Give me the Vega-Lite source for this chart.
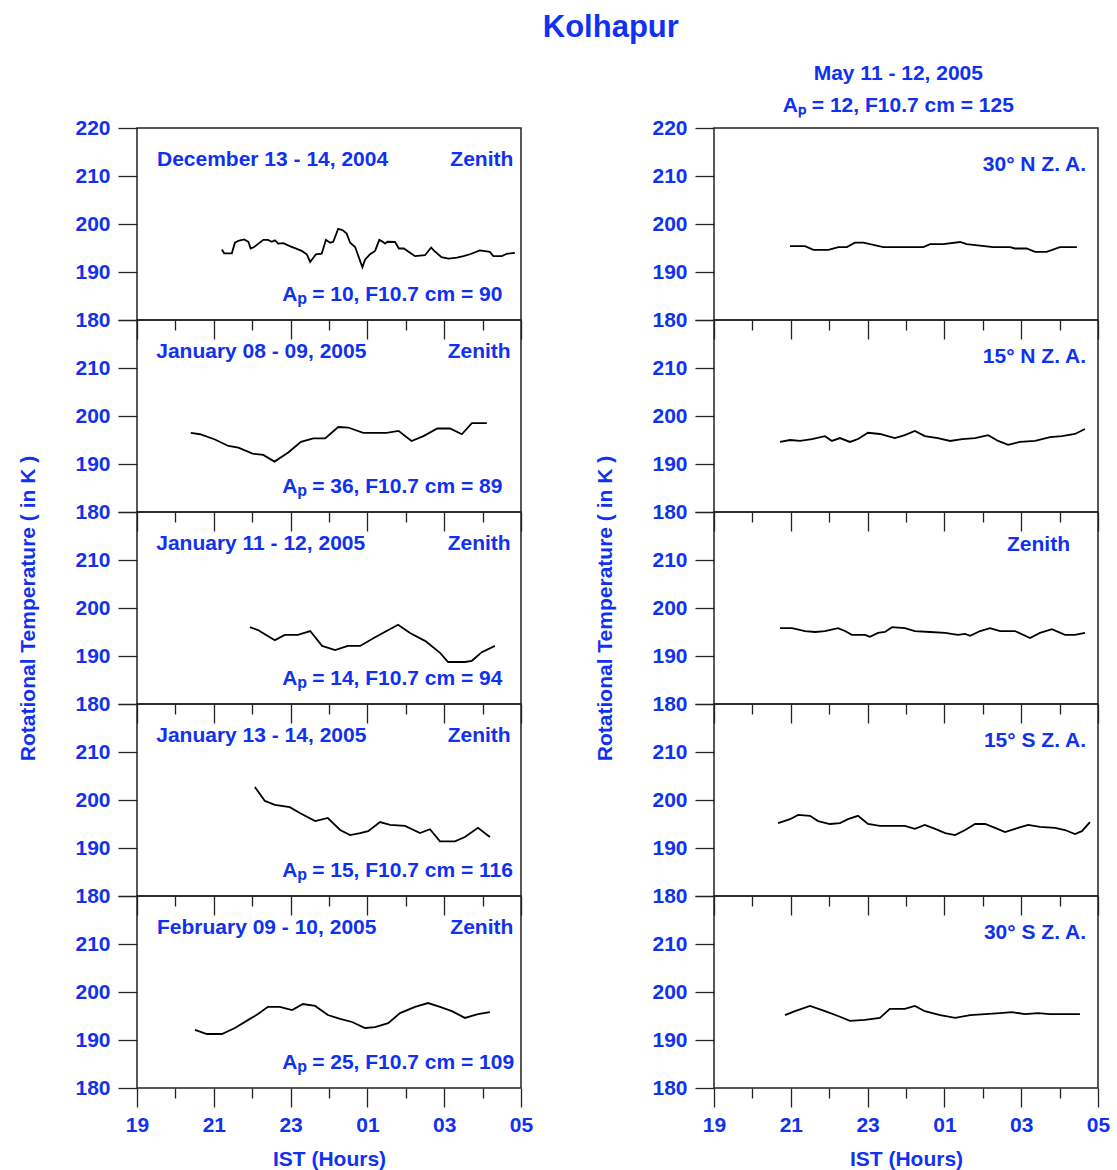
{
"$schema": "https://vega.github.io/schema/vega-lite/v6.json",
"background": "white",
"padding": {"left": 17, "top": 12, "right": 5, "bottom": 2},
"title": {"text": "Kolhapur", "fontSize": 31, "font": "Liberation Sans", "fontWeight": "bold", "color": "#1032f0", "anchor": "middle", "offset": 19, "dx": 47},
"bounds": "flush",
"spacing": 577,
"datasets": {
"temps": [
{"panel":"L1","hour":21.21,"temp":194.7},{"panel":"L1","hour":21.27,"temp":193.9},{"panel":"L1","hour":21.47,"temp":193.9},{"panel":"L1","hour":21.55,"temp":196.1},{"panel":"L1","hour":21.64,"temp":196.5},{"panel":"L1","hour":21.79,"temp":196.8},{"panel":"L1","hour":21.9,"temp":196.3},{"panel":"L1","hour":21.96,"temp":194.9},{"panel":"L1","hour":22.05,"temp":195.2},{"panel":"L1","hour":22.29,"temp":196.7},{"panel":"L1","hour":22.41,"temp":196.7},{"panel":"L1","hour":22.51,"temp":196.3},{"panel":"L1","hour":22.59,"temp":196.6},{"panel":"L1","hour":22.68,"temp":195.9},{"panel":"L1","hour":22.81,"temp":196.0},{"panel":"L1","hour":22.98,"temp":195.4},{"panel":"L1","hour":23.29,"temp":194.4},{"panel":"L1","hour":23.42,"temp":193.7},{"panel":"L1","hour":23.51,"temp":192.1},{"panel":"L1","hour":23.66,"temp":193.7},{"panel":"L1","hour":23.81,"temp":193.8},{"panel":"L1","hour":23.92,"temp":196.7},{"panel":"L1","hour":24.03,"temp":196.1},{"panel":"L1","hour":24.11,"temp":196.3},{"panel":"L1","hour":24.24,"temp":199.0},{"panel":"L1","hour":24.36,"temp":198.7},{"panel":"L1","hour":24.46,"temp":198.0},{"panel":"L1","hour":24.55,"temp":196.1},{"panel":"L1","hour":24.68,"temp":195.2},{"panel":"L1","hour":24.87,"temp":191.0},{"panel":"L1","hour":24.94,"temp":192.6},{"panel":"L1","hour":25.07,"temp":193.7},{"panel":"L1","hour":25.2,"temp":194.4},{"panel":"L1","hour":25.31,"temp":196.7},{"panel":"L1","hour":25.4,"temp":196.3},{"panel":"L1","hour":25.46,"temp":195.9},{"panel":"L1","hour":25.52,"temp":196.3},{"panel":"L1","hour":25.72,"temp":196.25},{"panel":"L1","hour":25.82,"temp":194.9},{"panel":"L1","hour":25.95,"temp":194.9},{"panel":"L1","hour":26.24,"temp":193.3},{"panel":"L1","hour":26.5,"temp":193.5},{"panel":"L1","hour":26.66,"temp":195.1},{"panel":"L1","hour":26.74,"temp":194.4},{"panel":"L1","hour":26.93,"temp":193.1},{"panel":"L1","hour":27.11,"temp":192.8},{"panel":"L1","hour":27.33,"temp":193.0},{"panel":"L1","hour":27.5,"temp":193.3},{"panel":"L1","hour":27.67,"temp":193.7},{"panel":"L1","hour":27.93,"temp":194.5},{"panel":"L1","hour":28.19,"temp":194.2},{"panel":"L1","hour":28.28,"temp":193.3},{"panel":"L1","hour":28.5,"temp":193.3},{"panel":"L1","hour":28.63,"temp":193.8},{"panel":"L1","hour":28.84,"temp":194.0},
{"panel":"L2","hour":20.4,"temp":196.5},{"panel":"L2","hour":20.64,"temp":196.2},{"panel":"L2","hour":21.03,"temp":195.1},{"panel":"L2","hour":21.38,"temp":193.75},{"panel":"L2","hour":21.64,"temp":193.4},{"panel":"L2","hour":22.01,"temp":192.15},{"panel":"L2","hour":22.29,"temp":191.9},{"panel":"L2","hour":22.58,"temp":190.5},{"panel":"L2","hour":22.94,"temp":192.4},{"panel":"L2","hour":23.27,"temp":194.6},{"panel":"L2","hour":23.59,"temp":195.35},{"panel":"L2","hour":23.9,"temp":195.35},{"panel":"L2","hour":24.24,"temp":197.7},{"panel":"L2","hour":24.5,"temp":197.6},{"panel":"L2","hour":24.89,"temp":196.5},{"panel":"L2","hour":25.5,"temp":196.5},{"panel":"L2","hour":25.81,"temp":196.9},{"panel":"L2","hour":26.15,"temp":194.8},{"panel":"L2","hour":26.46,"temp":195.8},{"panel":"L2","hour":26.82,"temp":197.4},{"panel":"L2","hour":27.15,"temp":197.4},{"panel":"L2","hour":27.46,"temp":196.2},{"panel":"L2","hour":27.72,"temp":198.5},{"panel":"L2","hour":28.11,"temp":198.5},
{"panel":"L3","hour":21.94,"temp":196.0},{"panel":"L3","hour":22.15,"temp":195.4},{"panel":"L3","hour":22.46,"temp":193.9},{"panel":"L3","hour":22.59,"temp":193.3},{"panel":"L3","hour":22.85,"temp":194.4},{"panel":"L3","hour":23.19,"temp":194.4},{"panel":"L3","hour":23.51,"temp":195.2},{"panel":"L3","hour":23.82,"temp":192.1},{"panel":"L3","hour":24.16,"temp":191.25},{"panel":"L3","hour":24.49,"temp":192.1},{"panel":"L3","hour":24.81,"temp":192.1},{"panel":"L3","hour":25.2,"temp":193.9},{"panel":"L3","hour":25.8,"temp":196.5},{"panel":"L3","hour":26.11,"temp":194.8},{"panel":"L3","hour":26.51,"temp":193.1},{"panel":"L3","hour":26.9,"temp":190.6},{"panel":"L3","hour":27.1,"temp":188.75},{"panel":"L3","hour":27.54,"temp":188.75},{"panel":"L3","hour":27.72,"temp":189.0},{"panel":"L3","hour":27.98,"temp":190.8},{"panel":"L3","hour":28.32,"temp":192.1},
{"panel":"L4","hour":22.07,"temp":202.7},{"panel":"L4","hour":22.33,"temp":199.8},{"panel":"L4","hour":22.59,"temp":199.0},{"panel":"L4","hour":22.98,"temp":198.5},{"panel":"L4","hour":23.24,"temp":197.3},{"panel":"L4","hour":23.64,"temp":195.6},{"panel":"L4","hour":23.97,"temp":196.25},{"panel":"L4","hour":24.29,"temp":193.75},{"panel":"L4","hour":24.55,"temp":192.7},{"panel":"L4","hour":24.81,"temp":193.1},{"panel":"L4","hour":25.02,"temp":193.5},{"panel":"L4","hour":25.33,"temp":195.4},{"panel":"L4","hour":25.59,"temp":194.8},{"panel":"L4","hour":25.98,"temp":194.6},{"panel":"L4","hour":26.37,"temp":193.1},{"panel":"L4","hour":26.63,"temp":193.9},{"panel":"L4","hour":26.89,"temp":191.4},{"panel":"L4","hour":27.28,"temp":191.4},{"panel":"L4","hour":27.54,"temp":192.3},{"panel":"L4","hour":27.88,"temp":194.2},{"panel":"L4","hour":28.19,"temp":192.3},
{"panel":"L5","hour":20.51,"temp":192.1},{"panel":"L5","hour":20.82,"temp":191.25},{"panel":"L5","hour":21.21,"temp":191.25},{"panel":"L5","hour":21.55,"temp":192.5},{"panel":"L5","hour":21.94,"temp":194.4},{"panel":"L5","hour":22.15,"temp":195.4},{"panel":"L5","hour":22.41,"temp":196.9},{"panel":"L5","hour":22.72,"temp":196.9},{"panel":"L5","hour":23.04,"temp":196.25},{"panel":"L5","hour":23.32,"temp":197.5},{"panel":"L5","hour":23.64,"temp":197.1},{"panel":"L5","hour":23.97,"temp":195.2},{"panel":"L5","hour":24.29,"temp":194.4},{"panel":"L5","hour":24.6,"temp":193.75},{"panel":"L5","hour":24.94,"temp":192.5},{"panel":"L5","hour":25.2,"temp":192.7},{"panel":"L5","hour":25.54,"temp":193.5},{"panel":"L5","hour":25.85,"temp":195.6},{"panel":"L5","hour":26.24,"temp":196.9},{"panel":"L5","hour":26.58,"temp":197.7},{"panel":"L5","hour":26.89,"temp":196.9},{"panel":"L5","hour":27.2,"temp":196.0},{"panel":"L5","hour":27.54,"temp":194.6},{"panel":"L5","hour":27.88,"temp":195.4},{"panel":"L5","hour":28.19,"temp":195.8},
{"panel":"R1","hour":20.98,"temp":195.4},{"panel":"R1","hour":21.37,"temp":195.4},{"panel":"R1","hour":21.59,"temp":194.6},{"panel":"R1","hour":21.98,"temp":194.6},{"panel":"R1","hour":22.24,"temp":195.2},{"panel":"R1","hour":22.46,"temp":195.2},{"panel":"R1","hour":22.67,"temp":196.1},{"panel":"R1","hour":22.89,"temp":196.1},{"panel":"R1","hour":23.41,"temp":195.2},{"panel":"R1","hour":24.45,"temp":195.2},{"panel":"R1","hour":24.63,"temp":195.8},{"panel":"R1","hour":24.97,"temp":195.8},{"panel":"R1","hour":25.41,"temp":196.25},{"panel":"R1","hour":25.58,"temp":195.8},{"panel":"R1","hour":26.27,"temp":195.2},{"panel":"R1","hour":26.71,"temp":195.2},{"panel":"R1","hour":26.84,"temp":194.9},{"panel":"R1","hour":27.14,"temp":194.9},{"panel":"R1","hour":27.36,"temp":194.2},{"panel":"R1","hour":27.66,"temp":194.2},{"panel":"R1","hour":28.01,"temp":195.2},{"panel":"R1","hour":28.45,"temp":195.2},
{"panel":"R2","hour":20.72,"temp":194.6},{"panel":"R2","hour":20.98,"temp":195.0},{"panel":"R2","hour":21.24,"temp":194.8},{"panel":"R2","hour":21.55,"temp":195.2},{"panel":"R2","hour":21.89,"temp":195.8},{"panel":"R2","hour":22.07,"temp":194.8},{"panel":"R2","hour":22.28,"temp":195.4},{"panel":"R2","hour":22.54,"temp":194.6},{"panel":"R2","hour":22.75,"temp":195.2},{"panel":"R2","hour":23.01,"temp":196.5},{"panel":"R2","hour":23.32,"temp":196.25},{"panel":"R2","hour":23.71,"temp":195.4},{"panel":"R2","hour":23.97,"temp":196.0},{"panel":"R2","hour":24.23,"temp":196.9},{"panel":"R2","hour":24.49,"temp":195.8},{"panel":"R2","hour":24.83,"temp":195.4},{"panel":"R2","hour":25.15,"temp":194.8},{"panel":"R2","hour":25.46,"temp":195.2},{"panel":"R2","hour":25.8,"temp":195.4},{"panel":"R2","hour":26.14,"temp":196.0},{"panel":"R2","hour":26.4,"temp":194.8},{"panel":"R2","hour":26.66,"temp":194.0},{"panel":"R2","hour":26.97,"temp":194.6},{"panel":"R2","hour":27.36,"temp":194.8},{"panel":"R2","hour":27.75,"temp":195.6},{"panel":"R2","hour":28.06,"temp":195.8},{"panel":"R2","hour":28.4,"temp":196.25},{"panel":"R2","hour":28.66,"temp":197.3},
{"panel":"R3","hour":20.72,"temp":195.8},{"panel":"R3","hour":21.03,"temp":195.8},{"panel":"R3","hour":21.37,"temp":195.2},{"panel":"R3","hour":21.63,"temp":195.0},{"panel":"R3","hour":21.89,"temp":195.2},{"panel":"R3","hour":22.23,"temp":195.8},{"panel":"R3","hour":22.41,"temp":195.2},{"panel":"R3","hour":22.59,"temp":194.4},{"panel":"R3","hour":22.93,"temp":194.4},{"panel":"R3","hour":23.06,"temp":194.0},{"panel":"R3","hour":23.27,"temp":194.8},{"panel":"R3","hour":23.45,"temp":195.0},{"panel":"R3","hour":23.64,"temp":196.0},{"panel":"R3","hour":23.97,"temp":195.8},{"panel":"R3","hour":24.23,"temp":195.2},{"panel":"R3","hour":24.63,"temp":195.0},{"panel":"R3","hour":25.02,"temp":194.8},{"panel":"R3","hour":25.35,"temp":194.4},{"panel":"R3","hour":25.54,"temp":194.6},{"panel":"R3","hour":25.67,"temp":194.2},{"panel":"R3","hour":25.93,"temp":195.2},{"panel":"R3","hour":26.19,"temp":195.8},{"panel":"R3","hour":26.45,"temp":195.2},{"panel":"R3","hour":26.84,"temp":195.2},{"panel":"R3","hour":27.23,"temp":193.75},{"panel":"R3","hour":27.49,"temp":194.8},{"panel":"R3","hour":27.8,"temp":195.6},{"panel":"R3","hour":28.14,"temp":194.4},{"panel":"R3","hour":28.4,"temp":194.4},{"panel":"R3","hour":28.66,"temp":194.8},
{"panel":"R4","hour":20.67,"temp":195.2},{"panel":"R4","hour":20.98,"temp":196.0},{"panel":"R4","hour":21.19,"temp":196.9},{"panel":"R4","hour":21.5,"temp":196.7},{"panel":"R4","hour":21.71,"temp":195.6},{"panel":"R4","hour":22.02,"temp":195.0},{"panel":"R4","hour":22.28,"temp":195.2},{"panel":"R4","hour":22.49,"temp":196.0},{"panel":"R4","hour":22.75,"temp":196.7},{"panel":"R4","hour":23.01,"temp":195.0},{"panel":"R4","hour":23.32,"temp":194.6},{"panel":"R4","hour":23.71,"temp":194.6},{"panel":"R4","hour":23.97,"temp":194.6},{"panel":"R4","hour":24.23,"temp":194.0},{"panel":"R4","hour":24.49,"temp":194.8},{"panel":"R4","hour":24.76,"temp":194.0},{"panel":"R4","hour":25.02,"temp":193.1},{"panel":"R4","hour":25.28,"temp":192.7},{"panel":"R4","hour":25.54,"temp":193.75},{"panel":"R4","hour":25.8,"temp":195.0},{"panel":"R4","hour":26.06,"temp":195.0},{"panel":"R4","hour":26.32,"temp":194.2},{"panel":"R4","hour":26.58,"temp":193.3},{"panel":"R4","hour":26.84,"temp":194.0},{"panel":"R4","hour":27.18,"temp":194.8},{"panel":"R4","hour":27.49,"temp":194.4},{"panel":"R4","hour":27.88,"temp":194.2},{"panel":"R4","hour":28.14,"temp":193.75},{"panel":"R4","hour":28.4,"temp":192.9},{"panel":"R4","hour":28.58,"temp":193.5},{"panel":"R4","hour":28.79,"temp":195.4},
{"panel":"R5","hour":20.85,"temp":195.2},{"panel":"R5","hour":21.11,"temp":196.0},{"panel":"R5","hour":21.5,"temp":197.1},{"panel":"R5","hour":21.89,"temp":196.0},{"panel":"R5","hour":22.23,"temp":195.0},{"panel":"R5","hour":22.54,"temp":194.0},{"panel":"R5","hour":22.93,"temp":194.2},{"panel":"R5","hour":23.32,"temp":194.6},{"panel":"R5","hour":23.58,"temp":196.5},{"panel":"R5","hour":23.97,"temp":196.5},{"panel":"R5","hour":24.23,"temp":197.1},{"panel":"R5","hour":24.49,"temp":196.0},{"panel":"R5","hour":24.89,"temp":195.2},{"panel":"R5","hour":25.28,"temp":194.6},{"panel":"R5","hour":25.67,"temp":195.2},{"panel":"R5","hour":26.06,"temp":195.4},{"panel":"R5","hour":26.45,"temp":195.6},{"panel":"R5","hour":26.76,"temp":195.8},{"panel":"R5","hour":27.1,"temp":195.4},{"panel":"R5","hour":27.44,"temp":195.6},{"panel":"R5","hour":27.75,"temp":195.4},{"panel":"R5","hour":28.14,"temp":195.4},{"panel":"R5","hour":28.53,"temp":195.4}
],
"labels": [
{"panel":"L1","pos":"left","hour":19.52,"temp":212.1,"label":"December 13 - 14, 2004"},
{"panel":"L1","pos":"right","hour":28.8,"temp":212.1,"label":"Zenith"},
{"panel":"L2","pos":"left","hour":19.5,"temp":212.1,"label":"January 08 - 09, 2005"},
{"panel":"L2","pos":"right","hour":28.73,"temp":212.1,"label":"Zenith"},
{"panel":"L3","pos":"left","hour":19.5,"temp":212.1,"label":"January 11 - 12, 2005"},
{"panel":"L3","pos":"right","hour":28.73,"temp":212.1,"label":"Zenith"},
{"panel":"L4","pos":"left","hour":19.5,"temp":212.1,"label":"January 13 - 14, 2005"},
{"panel":"L4","pos":"right","hour":28.73,"temp":212.1,"label":"Zenith"},
{"panel":"L5","pos":"left","hour":19.52,"temp":212.1,"label":"February 09 - 10, 2005"},
{"panel":"L5","pos":"right","hour":28.8,"temp":212.1,"label":"Zenith"},
{"panel":"R1","pos":"right","hour":28.69,"temp":211.0,"label":"30° N Z. A."},
{"panel":"R2","pos":"right","hour":28.69,"temp":211.0,"label":"15° N Z. A."},
{"panel":"R3","pos":"right","hour":28.27,"temp":211.9,"label":"Zenith"},
{"panel":"R4","pos":"right","hour":28.69,"temp":211.0,"label":"15° S Z. A."},
{"panel":"R5","pos":"right","hour":28.69,"temp":211.0,"label":"30° S Z. A."}
],
"ap": [
{"panel":"L1","hour":22.78,"temp":184.0,"rest":"= 10, F10.7 cm = 90"},
{"panel":"L2","hour":22.78,"temp":184.0,"rest":"= 36, F10.7 cm = 89"},
{"panel":"L3","hour":22.78,"temp":184.0,"rest":"= 14, F10.7 cm = 94"},
{"panel":"L4","hour":22.78,"temp":184.0,"rest":"= 15, F10.7 cm = 116"},
{"panel":"L5","hour":22.78,"temp":184.0,"rest":"= 25, F10.7 cm = 109"}
]
},
"hconcat": [
{
"spacing": 0,
"bounds": "flush",
"vconcat": [
{"width": 384, "height": 192,
"encoding": {
"x": {"field": "hour", "type": "quantitative", "scale": {"domain": [19, 29], "nice": false, "zero": false}, "axis": {"values": [19,20,21,22,23,24,25,26,27,28,29], "labels": false, "title": null, "tickSize": {"condition": {"test": "datum.value % 2 == 1", "value": 19}, "value": 10}}},
"y": {"field": "temp", "type": "quantitative", "scale": {"domain": [180, 220], "nice": false, "zero": false}, "axis": {"values": [180,190,200,210,220], "title": null}}},
"layer": [
{"data": {"name": "temps"}, "transform": [{"filter": "datum.panel == 'L1'"}], "mark": {"type": "line", "color": "black", "strokeWidth": 1.8}},
{"data": {"name": "labels"}, "transform": [{"filter": "datum.panel == 'L1' && datum.pos == 'left'"}], "mark": {"type": "text", "align": "left"}, "encoding": {"text": {"field": "label"}}},
{"data": {"name": "labels"}, "transform": [{"filter": "datum.panel == 'L1' && datum.pos == 'right'"}], "mark": {"type": "text", "align": "right"}, "encoding": {"text": {"field": "label"}}},
{"data": {"name": "ap"}, "transform": [{"filter": "datum.panel == 'L1'"}], "mark": {"type": "text", "align": "left", "text": "A"}},
{"data": {"name": "ap"}, "transform": [{"filter": "datum.panel == 'L1'"}], "mark": {"type": "text", "align": "left", "text": "p", "fontSize": 16, "dx": 15.2, "dy": 3}},
{"data": {"name": "ap"}, "transform": [{"filter": "datum.panel == 'L1'"}], "mark": {"type": "text", "align": "left", "dx": 30}, "encoding": {"text": {"field": "rest"}}}
]},
{"width": 384, "height": 192,
"encoding": {
"x": {"field": "hour", "type": "quantitative", "scale": {"domain": [19, 29], "nice": false, "zero": false}, "axis": {"values": [19,20,21,22,23,24,25,26,27,28,29], "labels": false, "title": null, "tickSize": {"condition": {"test": "datum.value % 2 == 1", "value": 19}, "value": 10}}},
"y": {"field": "temp", "type": "quantitative", "scale": {"domain": [180, 220], "nice": false, "zero": false}, "axis": {"values": [180,190,200,210,220], "title": null, "labelExpr": "datum.value == 220 ? '' : datum.label"}}},
"layer": [
{"data": {"name": "temps"}, "transform": [{"filter": "datum.panel == 'L2'"}], "mark": {"type": "line", "color": "black", "strokeWidth": 1.8}},
{"data": {"name": "labels"}, "transform": [{"filter": "datum.panel == 'L2' && datum.pos == 'left'"}], "mark": {"type": "text", "align": "left"}, "encoding": {"text": {"field": "label"}}},
{"data": {"name": "labels"}, "transform": [{"filter": "datum.panel == 'L2' && datum.pos == 'right'"}], "mark": {"type": "text", "align": "right"}, "encoding": {"text": {"field": "label"}}},
{"data": {"name": "ap"}, "transform": [{"filter": "datum.panel == 'L2'"}], "mark": {"type": "text", "align": "left", "text": "A"}},
{"data": {"name": "ap"}, "transform": [{"filter": "datum.panel == 'L2'"}], "mark": {"type": "text", "align": "left", "text": "p", "fontSize": 16, "dx": 15.2, "dy": 3}},
{"data": {"name": "ap"}, "transform": [{"filter": "datum.panel == 'L2'"}], "mark": {"type": "text", "align": "left", "dx": 30}, "encoding": {"text": {"field": "rest"}}}
]},
{"width": 384, "height": 192,
"encoding": {
"x": {"field": "hour", "type": "quantitative", "scale": {"domain": [19, 29], "nice": false, "zero": false}, "axis": {"values": [19,20,21,22,23,24,25,26,27,28,29], "labels": false, "title": null, "tickSize": {"condition": {"test": "datum.value % 2 == 1", "value": 19}, "value": 10}}},
"y": {"field": "temp", "type": "quantitative", "scale": {"domain": [180, 220], "nice": false, "zero": false}, "axis": {"values": [180,190,200,210,220], "title": "Rotational Temperature ( in K )", "labelExpr": "datum.value == 220 ? '' : datum.label"}}},
"layer": [
{"data": {"name": "temps"}, "transform": [{"filter": "datum.panel == 'L3'"}], "mark": {"type": "line", "color": "black", "strokeWidth": 1.8}},
{"data": {"name": "labels"}, "transform": [{"filter": "datum.panel == 'L3' && datum.pos == 'left'"}], "mark": {"type": "text", "align": "left"}, "encoding": {"text": {"field": "label"}}},
{"data": {"name": "labels"}, "transform": [{"filter": "datum.panel == 'L3' && datum.pos == 'right'"}], "mark": {"type": "text", "align": "right"}, "encoding": {"text": {"field": "label"}}},
{"data": {"name": "ap"}, "transform": [{"filter": "datum.panel == 'L3'"}], "mark": {"type": "text", "align": "left", "text": "A"}},
{"data": {"name": "ap"}, "transform": [{"filter": "datum.panel == 'L3'"}], "mark": {"type": "text", "align": "left", "text": "p", "fontSize": 16, "dx": 15.2, "dy": 3}},
{"data": {"name": "ap"}, "transform": [{"filter": "datum.panel == 'L3'"}], "mark": {"type": "text", "align": "left", "dx": 30}, "encoding": {"text": {"field": "rest"}}}
]},
{"width": 384, "height": 192,
"encoding": {
"x": {"field": "hour", "type": "quantitative", "scale": {"domain": [19, 29], "nice": false, "zero": false}, "axis": {"values": [19,20,21,22,23,24,25,26,27,28,29], "labels": false, "title": null, "tickSize": {"condition": {"test": "datum.value % 2 == 1", "value": 19}, "value": 10}}},
"y": {"field": "temp", "type": "quantitative", "scale": {"domain": [180, 220], "nice": false, "zero": false}, "axis": {"values": [180,190,200,210,220], "title": null, "labelExpr": "datum.value == 220 ? '' : datum.label"}}},
"layer": [
{"data": {"name": "temps"}, "transform": [{"filter": "datum.panel == 'L4'"}], "mark": {"type": "line", "color": "black", "strokeWidth": 1.8}},
{"data": {"name": "labels"}, "transform": [{"filter": "datum.panel == 'L4' && datum.pos == 'left'"}], "mark": {"type": "text", "align": "left"}, "encoding": {"text": {"field": "label"}}},
{"data": {"name": "labels"}, "transform": [{"filter": "datum.panel == 'L4' && datum.pos == 'right'"}], "mark": {"type": "text", "align": "right"}, "encoding": {"text": {"field": "label"}}},
{"data": {"name": "ap"}, "transform": [{"filter": "datum.panel == 'L4'"}], "mark": {"type": "text", "align": "left", "text": "A"}},
{"data": {"name": "ap"}, "transform": [{"filter": "datum.panel == 'L4'"}], "mark": {"type": "text", "align": "left", "text": "p", "fontSize": 16, "dx": 15.2, "dy": 3}},
{"data": {"name": "ap"}, "transform": [{"filter": "datum.panel == 'L4'"}], "mark": {"type": "text", "align": "left", "dx": 30}, "encoding": {"text": {"field": "rest"}}}
]},
{"width": 384, "height": 192,
"encoding": {
"x": {"field": "hour", "type": "quantitative", "scale": {"domain": [19, 29], "nice": false, "zero": false}, "axis": {"values": [19,20,21,22,23,24,25,26,27,28,29], "labelExpr": "datum.value % 2 == 1 ? (datum.value % 24 < 10 ? '0' : '') + (datum.value % 24) : ''", "title": "IST (Hours)", "tickSize": {"condition": {"test": "datum.value % 2 == 1", "value": 19}, "value": 10}}},
"y": {"field": "temp", "type": "quantitative", "scale": {"domain": [180, 220], "nice": false, "zero": false}, "axis": {"values": [180,190,200,210,220], "title": null, "labelExpr": "datum.value == 220 ? '' : datum.label"}}},
"layer": [
{"data": {"name": "temps"}, "transform": [{"filter": "datum.panel == 'L5'"}], "mark": {"type": "line", "color": "black", "strokeWidth": 1.8}},
{"data": {"name": "labels"}, "transform": [{"filter": "datum.panel == 'L5' && datum.pos == 'left'"}], "mark": {"type": "text", "align": "left"}, "encoding": {"text": {"field": "label"}}},
{"data": {"name": "labels"}, "transform": [{"filter": "datum.panel == 'L5' && datum.pos == 'right'"}], "mark": {"type": "text", "align": "right"}, "encoding": {"text": {"field": "label"}}},
{"data": {"name": "ap"}, "transform": [{"filter": "datum.panel == 'L5'"}], "mark": {"type": "text", "align": "left", "text": "A"}},
{"data": {"name": "ap"}, "transform": [{"filter": "datum.panel == 'L5'"}], "mark": {"type": "text", "align": "left", "text": "p", "fontSize": 16, "dx": 15.2, "dy": 3}},
{"data": {"name": "ap"}, "transform": [{"filter": "datum.panel == 'L5'"}], "mark": {"type": "text", "align": "left", "dx": 30}, "encoding": {"text": {"field": "rest"}}}
]}
]
},
{
"spacing": 0,
"bounds": "flush",
"title": {"text": ["May 11 - 12, 2005", "Aₚ = 12, F10.7 cm = 125"], "fontSize": 21, "font": "Liberation Sans", "fontWeight": "bold", "color": "#1032f0", "anchor": "middle", "lineHeight": 32, "offset": 0, "dx": 46},
"vconcat": [
{"width": 384, "height": 192,
"encoding": {
"x": {"field": "hour", "type": "quantitative", "scale": {"domain": [19, 29], "nice": false, "zero": false}, "axis": {"values": [19,20,21,22,23,24,25,26,27,28,29], "labels": false, "title": null, "tickSize": {"condition": {"test": "datum.value % 2 == 1", "value": 19}, "value": 10}}},
"y": {"field": "temp", "type": "quantitative", "scale": {"domain": [180, 220], "nice": false, "zero": false}, "axis": {"values": [180,190,200,210,220], "title": null}}},
"layer": [
{"data": {"name": "temps"}, "transform": [{"filter": "datum.panel == 'R1'"}], "mark": {"type": "line", "color": "black", "strokeWidth": 1.8}},
{"data": {"name": "labels"}, "transform": [{"filter": "datum.panel == 'R1'"}], "mark": {"type": "text", "align": "right"}, "encoding": {"text": {"field": "label"}}}
]},
{"width": 384, "height": 192,
"encoding": {
"x": {"field": "hour", "type": "quantitative", "scale": {"domain": [19, 29], "nice": false, "zero": false}, "axis": {"values": [19,20,21,22,23,24,25,26,27,28,29], "labels": false, "title": null, "tickSize": {"condition": {"test": "datum.value % 2 == 1", "value": 19}, "value": 10}}},
"y": {"field": "temp", "type": "quantitative", "scale": {"domain": [180, 220], "nice": false, "zero": false}, "axis": {"values": [180,190,200,210,220], "title": null, "labelExpr": "datum.value == 220 ? '' : datum.label"}}},
"layer": [
{"data": {"name": "temps"}, "transform": [{"filter": "datum.panel == 'R2'"}], "mark": {"type": "line", "color": "black", "strokeWidth": 1.8}},
{"data": {"name": "labels"}, "transform": [{"filter": "datum.panel == 'R2'"}], "mark": {"type": "text", "align": "right"}, "encoding": {"text": {"field": "label"}}}
]},
{"width": 384, "height": 192,
"encoding": {
"x": {"field": "hour", "type": "quantitative", "scale": {"domain": [19, 29], "nice": false, "zero": false}, "axis": {"values": [19,20,21,22,23,24,25,26,27,28,29], "labels": false, "title": null, "tickSize": {"condition": {"test": "datum.value % 2 == 1", "value": 19}, "value": 10}}},
"y": {"field": "temp", "type": "quantitative", "scale": {"domain": [180, 220], "nice": false, "zero": false}, "axis": {"values": [180,190,200,210,220], "title": "Rotational Temperature ( in K )", "labelExpr": "datum.value == 220 ? '' : datum.label"}}},
"layer": [
{"data": {"name": "temps"}, "transform": [{"filter": "datum.panel == 'R3'"}], "mark": {"type": "line", "color": "black", "strokeWidth": 1.8}},
{"data": {"name": "labels"}, "transform": [{"filter": "datum.panel == 'R3'"}], "mark": {"type": "text", "align": "right"}, "encoding": {"text": {"field": "label"}}}
]},
{"width": 384, "height": 192,
"encoding": {
"x": {"field": "hour", "type": "quantitative", "scale": {"domain": [19, 29], "nice": false, "zero": false}, "axis": {"values": [19,20,21,22,23,24,25,26,27,28,29], "labels": false, "title": null, "tickSize": {"condition": {"test": "datum.value % 2 == 1", "value": 19}, "value": 10}}},
"y": {"field": "temp", "type": "quantitative", "scale": {"domain": [180, 220], "nice": false, "zero": false}, "axis": {"values": [180,190,200,210,220], "title": null, "labelExpr": "datum.value == 220 ? '' : datum.label"}}},
"layer": [
{"data": {"name": "temps"}, "transform": [{"filter": "datum.panel == 'R4'"}], "mark": {"type": "line", "color": "black", "strokeWidth": 1.8}},
{"data": {"name": "labels"}, "transform": [{"filter": "datum.panel == 'R4'"}], "mark": {"type": "text", "align": "right"}, "encoding": {"text": {"field": "label"}}}
]},
{"width": 384, "height": 192,
"encoding": {
"x": {"field": "hour", "type": "quantitative", "scale": {"domain": [19, 29], "nice": false, "zero": false}, "axis": {"values": [19,20,21,22,23,24,25,26,27,28,29], "labelExpr": "datum.value % 2 == 1 ? (datum.value % 24 < 10 ? '0' : '') + (datum.value % 24) : ''", "title": "IST (Hours)", "tickSize": {"condition": {"test": "datum.value % 2 == 1", "value": 19}, "value": 10}}},
"y": {"field": "temp", "type": "quantitative", "scale": {"domain": [180, 220], "nice": false, "zero": false}, "axis": {"values": [180,190,200,210,220], "title": null, "labelExpr": "datum.value == 220 ? '' : datum.label"}}},
"layer": [
{"data": {"name": "temps"}, "transform": [{"filter": "datum.panel == 'R5'"}], "mark": {"type": "line", "color": "black", "strokeWidth": 1.8}},
{"data": {"name": "labels"}, "transform": [{"filter": "datum.panel == 'R5'"}], "mark": {"type": "text", "align": "right"}, "encoding": {"text": {"field": "label"}}}
]}
]
}
],
"config": {
"view": {"stroke": "#222", "strokeWidth": 1.5},
"axis": {"domain": false, "grid": false, "tickColor": "#222", "tickWidth": 1.3, "tickSize": 19, "labelFont": "Liberation Sans", "labelFontWeight": "bold", "labelFontSize": 21, "labelColor": "#1032f0", "labelPadding": 8, "labelFlush": false, "labelOverlap": false, "titleFont": "Liberation Sans", "titleFontWeight": "bold", "titleFontSize": 21, "titleColor": "#1032f0", "titlePadding": 36},
"axisX": {"labelPadding": 7, "titlePadding": 13},
"text": {"font": "Liberation Sans", "fontWeight": "bold", "fontSize": 21, "color": "#1032f0", "baseline": "alphabetic"}
}
}
